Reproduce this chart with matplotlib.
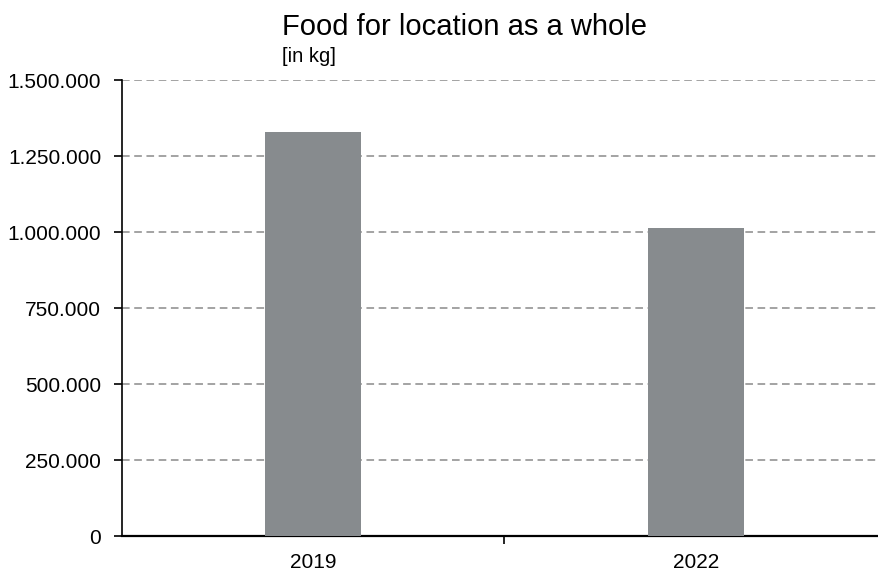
import matplotlib
matplotlib.use("Agg")
import matplotlib.pyplot as plt
from matplotlib.ticker import FuncFormatter, FixedLocator

categories = ["2019", "2022"]
values = [1328000, 1013000]
yticks = [0, 250000, 500000, 750000, 1000000, 1250000, 1500000]

plt.rcParams['font.family'] = ['Liberation Sans', 'DejaVu Sans']

fig = plt.figure(figsize=(8.79, 5.72), dpi=100)
W, H = 879, 572
left, right, top, bottom = 122, 887, 80, 536
ax = fig.add_axes([left / W, 1 - bottom / H, (right - left) / W, (bottom - top) / H])

x = list(range(len(categories)))
ax.bar(x, values, width=0.25, color="#878b8e", zorder=3)
ax.set_xlim(-0.5, len(categories) - 0.5)
ax.set_ylim(0, 1500000)

ax.set_yticks(yticks)
ax.yaxis.set_major_formatter(FuncFormatter(lambda v, p: f"{int(v):,}".replace(",", ".")))
ax.yaxis.grid(True, linestyle=(0, (5, 3)), color="#8a8a8a", linewidth=1.1, zorder=1)
ax.set_axisbelow(True)

ax.set_xticks(x)
ax.set_xticklabels(categories)
ax.xaxis.set_minor_locator(FixedLocator([i + 0.5 for i in range(len(categories) - 1)]))
ax.tick_params(axis="x", which="major", length=0, pad=12.5, labelsize=15)
ax.tick_params(axis="x", which="minor", length=6, width=1.2, direction="out")
ax.tick_params(axis="y", length=6, width=1.2, direction="out", pad=9, labelsize=15)

for s in ["top", "right"]:
    ax.spines[s].set_visible(False)
ax.spines["left"].set_linewidth(1.2)
ax.spines["bottom"].set_linewidth(1.6)

fig.text(282 / W, 1 - 35 / H, "Food for location as a whole", fontsize=21, ha="left", va="baseline")
fig.text(282 / W, 1 - 62 / H, "[in kg]", fontsize=14.5, ha="left", va="baseline")

fig.savefig("out.png", dpi=100)
